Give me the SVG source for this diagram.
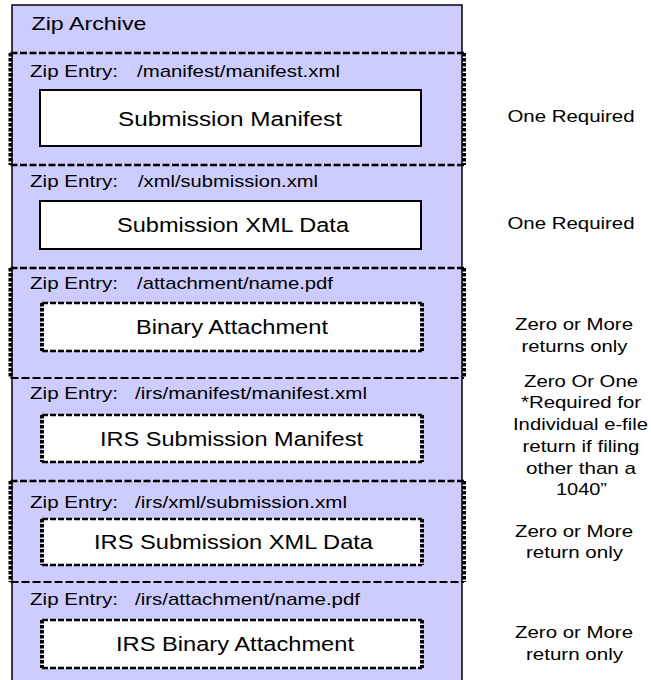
<svg xmlns="http://www.w3.org/2000/svg" width="651" height="680" viewBox="0 0 651 680">
<style>
text{font-family:"Liberation Sans",Arial,sans-serif;fill:#000;}
.title{font-size:19px;}
.entry{font-size:17px;}
.lbl{font-size:20px;}
.note{font-size:17px;}
.solid{fill:#fff;stroke:#000;stroke-width:2;}
.ifill{fill:#fff;stroke:none;}
.dh{fill:none;stroke:#000;stroke-width:2.6;stroke-dasharray:7 2.5;}
.dht{fill:none;stroke:#000;stroke-width:1.8;stroke-dasharray:8 3;}
.dv{fill:none;stroke:#000;stroke-width:4;stroke-dasharray:3.5 1.5;}
.bh{fill:none;stroke:#000;stroke-width:2.7;stroke-dasharray:6 2;}
.bv{fill:none;stroke:#000;stroke-width:4;stroke-dasharray:3.5 1.5;}
</style>
<g id="archive">
<rect x="12" y="5" width="450" height="700" fill="#ccccff" stroke="#000" stroke-width="1.5"/>
<text class="title" x="31.5" y="30" textLength="115" lengthAdjust="spacingAndGlyphs">Zip Archive</text>
</g>
<g id="entry-manifest">
<path class="dh" d="M10.5 53H464M10.5 165H464"/>
<path class="dv" d="M10.5 53V165M464 53V165"/>
<text class="entry" x="30" y="77" textLength="88" lengthAdjust="spacingAndGlyphs">Zip Entry:</text>
<text class="entry" x="137" y="77" textLength="203" lengthAdjust="spacingAndGlyphs">/manifest/manifest.xml</text>
</g>
<g id="submission-manifest">
<rect class="solid" x="40" y="90" width="381" height="56"/>
<text class="lbl" x="118" y="126" textLength="224" lengthAdjust="spacingAndGlyphs">Submission Manifest</text>
</g>
<g id="entry-xml">
<text class="entry" x="30" y="187" textLength="88" lengthAdjust="spacingAndGlyphs">Zip Entry:</text>
<text class="entry" x="138" y="187" textLength="180" lengthAdjust="spacingAndGlyphs">/xml/submission.xml</text>
</g>
<g id="submission-xml-data">
<rect class="solid" x="40" y="201" width="381" height="48"/>
<text class="lbl" x="117" y="232" textLength="232" lengthAdjust="spacingAndGlyphs">Submission XML Data</text>
</g>
<g id="entry-attachment">
<path class="dh" d="M10.5 268H464"/>
<path class="dht" d="M10.5 378H464"/>
<path class="dv" d="M10.5 268V378M464 268V378"/>
<text class="entry" x="30" y="289" textLength="88" lengthAdjust="spacingAndGlyphs">Zip Entry:</text>
<text class="entry" x="137" y="289" textLength="196" lengthAdjust="spacingAndGlyphs">/attachment/name.pdf</text>
</g>
<g id="binary-attachment">
<rect class="ifill" x="42" y="303" width="380" height="48"/>
<path class="bh" d="M42 303H422M42 351H422"/>
<path class="bv" d="M42 303V351M422 303V351"/>
<text class="lbl" x="136" y="334" textLength="192" lengthAdjust="spacingAndGlyphs">Binary Attachment</text>
</g>
<g id="entry-irs-manifest">
<text class="entry" x="30" y="399" textLength="88" lengthAdjust="spacingAndGlyphs">Zip Entry:</text>
<text class="entry" x="135" y="399" textLength="232" lengthAdjust="spacingAndGlyphs">/irs/manifest/manifest.xml</text>
</g>
<g id="irs-submission-manifest">
<rect class="ifill" x="42" y="415" width="380" height="47"/>
<path class="bh" d="M42 415H422M42 462H422"/>
<path class="bv" d="M42 415V462M422 415V462"/>
<text class="lbl" x="100" y="446" textLength="263" lengthAdjust="spacingAndGlyphs">IRS Submission Manifest</text>
</g>
<g id="entry-irs-xml">
<path class="dh" d="M10.5 481H464"/>
<path class="dht" d="M10.5 582H464"/>
<path class="dv" d="M10.5 481V582M464 481V582"/>
<text class="entry" x="30" y="508" textLength="88" lengthAdjust="spacingAndGlyphs">Zip Entry:</text>
<text class="entry" x="135" y="508" textLength="212" lengthAdjust="spacingAndGlyphs">/irs/xml/submission.xml</text>
</g>
<g id="irs-submission-xml-data">
<rect class="ifill" x="42" y="519" width="380" height="46"/>
<path class="bh" d="M42 519H422M42 565H422"/>
<path class="bv" d="M42 519V565M422 519V565"/>
<text class="lbl" x="94" y="549" textLength="279" lengthAdjust="spacingAndGlyphs">IRS Submission XML Data</text>
</g>
<g id="entry-irs-attachment">
<text class="entry" x="30" y="605" textLength="88" lengthAdjust="spacingAndGlyphs">Zip Entry:</text>
<text class="entry" x="135" y="605" textLength="225" lengthAdjust="spacingAndGlyphs">/irs/attachment/name.pdf</text>
</g>
<g id="irs-binary-attachment">
<rect class="ifill" x="42" y="620" width="380" height="48"/>
<path class="bh" d="M42 620H422M42 668H422"/>
<path class="bv" d="M42 620V668M422 620V668"/>
<text class="lbl" x="116" y="651" textLength="238" lengthAdjust="spacingAndGlyphs">IRS Binary Attachment</text>
</g>
<g id="note-manifest">
<text class="note" x="507.5" y="122" textLength="127" lengthAdjust="spacingAndGlyphs">One Required</text>
</g>
<g id="note-xml">
<text class="note" x="507.5" y="229" textLength="127" lengthAdjust="spacingAndGlyphs">One Required</text>
</g>
<g id="note-attachment">
<text class="note" x="515" y="330" textLength="118" lengthAdjust="spacingAndGlyphs">Zero or More</text>
<text class="note" x="521.5" y="352" textLength="106" lengthAdjust="spacingAndGlyphs">returns only</text>
</g>
<g id="note-irs-manifest">
<text class="note" x="524" y="387" textLength="114" lengthAdjust="spacingAndGlyphs">Zero Or One</text>
<text class="note" x="521" y="408" textLength="120" lengthAdjust="spacingAndGlyphs">*Required for</text>
<text class="note" x="513" y="430" textLength="135" lengthAdjust="spacingAndGlyphs">Individual e-file</text>
<text class="note" x="522.5" y="452" textLength="117" lengthAdjust="spacingAndGlyphs">return if filing</text>
<text class="note" x="526" y="474" textLength="110" lengthAdjust="spacingAndGlyphs">other than a</text>
<text class="note" x="556" y="495" textLength="51" lengthAdjust="spacingAndGlyphs">1040”</text>
</g>
<g id="note-irs-xml">
<text class="note" x="515" y="537" textLength="118" lengthAdjust="spacingAndGlyphs">Zero or More</text>
<text class="note" x="526" y="558" textLength="97" lengthAdjust="spacingAndGlyphs">return only</text>
</g>
<g id="note-irs-attachment">
<text class="note" x="515" y="638" textLength="118" lengthAdjust="spacingAndGlyphs">Zero or More</text>
<text class="note" x="526" y="660" textLength="97" lengthAdjust="spacingAndGlyphs">return only</text>
</g>
</svg>
